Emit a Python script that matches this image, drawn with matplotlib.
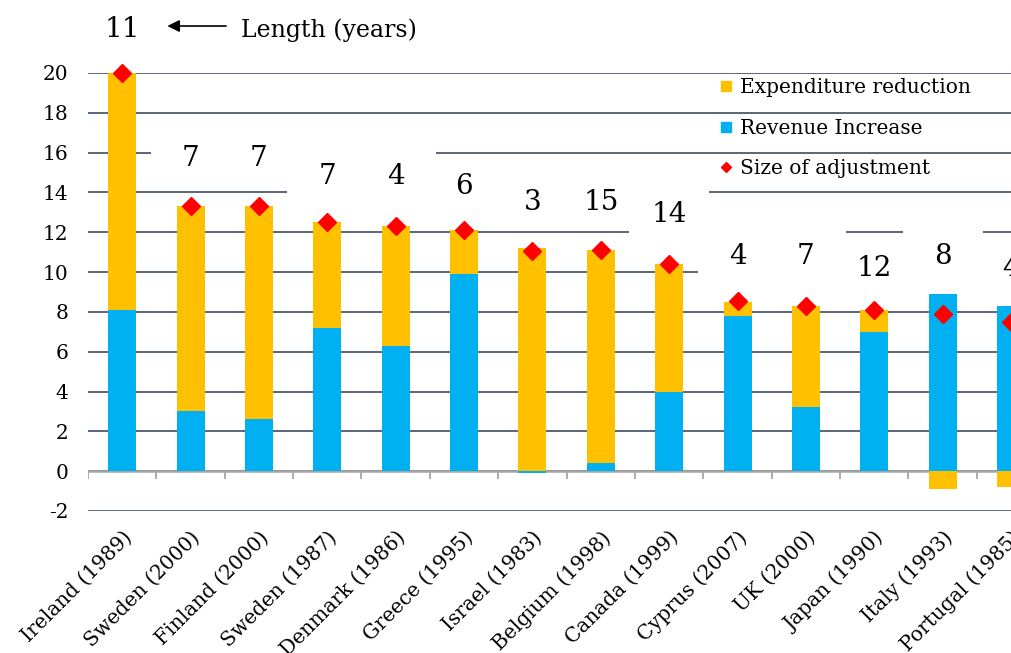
import matplotlib
matplotlib.use("Agg")
import matplotlib.pyplot as plt
from matplotlib.lines import Line2D
from matplotlib.patches import Rectangle
import numpy as np

plt.rcParams['font.family'] = ['DejaVu Serif']
plt.rcParams['axes.unicode_minus'] = False

countries = ["Ireland (1989)", "Sweden (2000)", "Finland (2000)", "Sweden (1987)",
             "Denmark (1986)", "Greece (1995)", "Israel (1983)", "Belgium (1998)",
             "Canada (1999)", "Cyprus (2007)", "UK (2000)", "Japan (1990)",
             "Italy (1993)", "Portugal (1985)"]
revenue = [8.1, 3.0, 2.6, 7.2, 6.3, 9.9, -0.1, 0.4, 4.0, 7.8, 3.2, 7.0, 8.9, 8.3]
expenditure = [11.9, 10.3, 10.7, 5.3, 6.0, 2.2, 11.2, 10.7, 6.4, 0.7, 5.1, 1.1, -0.9, -0.8]
size_adj = [20.0, 13.3, 13.3, 12.5, 12.3, 12.1, 11.05, 11.1, 10.4, 8.55, 8.3, 8.1, 7.9, 7.5]
length_years = [11, 7, 7, 7, 4, 6, 3, 15, 14, 4, 7, 12, 8, 4]
label_y = [22.2, 15.7, 15.7, 14.8, 14.8, 14.3, 13.5, 13.5, 12.9, 10.8, 10.8, 10.2, 10.8, 10.2]

ORANGE = '#FFC000'
BLUE = '#00B0F0'
RED = '#FF0000'
GRID = '#4d5b6c'

x = np.arange(len(countries))
rev = np.array(revenue)
exp_ = np.array(expenditure)
exp_bottom = np.where((rev > 0) & (exp_ > 0), rev, 0)

fig = plt.figure(figsize=(10.11, 6.53), dpi=100)
ax = fig.add_axes([88/1011, (653-511)/653, 1 - 88/1011, (511-73)/653])

ax.bar(x, rev, width=0.41, color=BLUE, zorder=2)
ax.bar(x, exp_, width=0.41, bottom=exp_bottom, color=ORANGE, zorder=2)
ax.plot(x, size_adj, ls='none', marker='D', ms=9, color=RED, zorder=4, clip_on=False)

# white label boxes hiding gridlines
for xi, yi in zip(x, label_y):
    ax.add_patch(Rectangle((xi - 0.585, yi - 1.35), 1.17, 2.7, facecolor='white',
                           edgecolor='none', zorder=1))
for xi, yi, n in zip(x, label_y, length_years):
    ax.text(xi, yi, str(n), ha='center', va='center', fontsize=20, zorder=5, clip_on=False)

ax.set_xlim(-0.5, 12.994)
ax.set_ylim(-2, 20)
ax.set_yticks(np.arange(-2, 21, 2))
ax.yaxis.grid(True, color=GRID, lw=1.3)
ax.set_axisbelow(True)
ax.axhline(0, color='#a6a6a6', lw=1.8, zorder=1.5)
ax.vlines(np.arange(-0.5, len(countries)), -0.4, 0, color='#a6a6a6', lw=1.3, zorder=1.5)

ax.set_xticks(x)
ax.set_xticklabels(countries, rotation=45, ha='right', rotation_mode='anchor', fontsize=14.5)
ax.tick_params(axis='x', length=0, pad=12)
ax.tick_params(axis='y', length=0, pad=14, labelsize=14.5)
for s in ax.spines.values():
    s.set_visible(False)

# length annotation
ax.annotate('', xy=(0.62, 22.36), xytext=(1.56, 22.36),
            arrowprops=dict(arrowstyle='-|>', color='black', lw=1.2, mutation_scale=18),
            annotation_clip=False)
ax.text(1.74, 22.16, 'Length (years)', ha='left', va='center', fontsize=17, clip_on=False)

handles = [Line2D([], [], ls='none', marker='s', ms=7, color=ORANGE),
           Line2D([], [], ls='none', marker='s', ms=7, color=BLUE),
           Line2D([], [], ls='none', marker='D', ms=5.5, color=RED)]
fig.legend(handles, ['Expenditure reduction', 'Revenue Increase', 'Size of adjustment'],
           loc='upper left', bbox_to_anchor=(718/1011, 1 - 78/653), frameon=False,
           fontsize=14.5, handlelength=0.8, handletextpad=0.3, labelspacing=1.08,
           borderaxespad=0, borderpad=0)

fig.savefig('out.png', dpi=100)
